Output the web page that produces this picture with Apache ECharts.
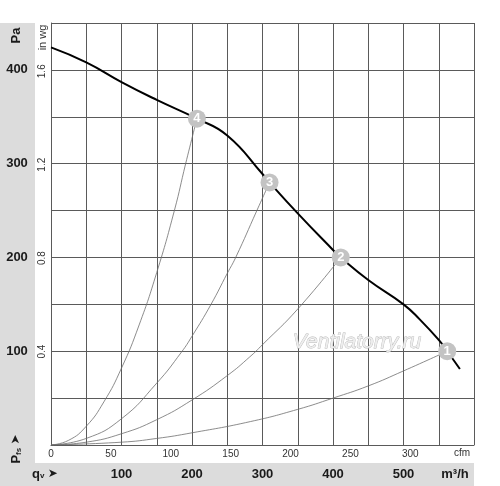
<!DOCTYPE html>
<html><head><meta charset="utf-8">
<script src="https://cdn.jsdelivr.net/npm/echarts@6/dist/echarts.min.js"></script>
<style>html,body{margin:0;padding:0;background:#fff}#c{width:500px;height:486px}</style>
</head><body><div id="c"></div>
<script>
// Tick labels
const flowTicks = [100, 200, 300, 400, 500];        // m³/h (bold, bottom band)
const paTicks = [100, 200, 300, 400];               // Pa (bold, left band)
// Fan curve [m³/h, Pa]
const fanCurve = [[0,424],[50,408],[100,387],[150,368],[207,348],[250,330],[300,289],[310,280],[350,247],[400,208],[411,200],[450,176],[500,150],[523,134],[550,112],[562,100],[580,81]];
// System resistance curves [m³/h, Pa]
const system1 = [[0,0],[100,3],[150,7],[200,13],[283,25],[350,38],[400,50],[450,63],[500,79],[562,100]];
const system2 = [[0,0],[50,3],[100,12],[150,27],[200,48],[250,74],[282,94],[300,107],[350,145],[411,200]];
const system3 = [[0,0],[50,7],[100,28],[150,66],[185,99],[200,116],[227,150],[250,183],[262,200],[292,250],[310,280]];
const system4 = [[0,0],[25,5],[50,20],[75,46],[100,82],[125,128],[150,184],[175,250],[191,300],[207,348]];
// Operating points [m³/h, Pa, label]
const opPoints = [[562,100,'1'],[411,200,'2'],[310,280,'3'],[207,348,'4']];

const M3H_PER_CFM = 1.699;
const PA_PER_INWG = 249.089;
const FONT = '"Liberation Sans", Arial, sans-serif';
const GRID = '#5a5a5a';

const chart = echarts.init(document.getElementById('c'));
const sysStyle = {type:'line', smooth:true, showSymbol:false, silent:true, lineStyle:{color:'#6e6e6e', width:0.8}, z:3};
chart.setOption({
  animation:false,
  textStyle:{fontFamily:FONT},
  grid:{left:51, top:23, right:26, bottom:41, containLabel:false},
  xAxis:[
    {type:'value', min:0, max:600, interval:50, position:'bottom',
     axisLine:{show:true, lineStyle:{color:GRID, width:1}}, axisTick:{show:false},
     splitLine:{show:true, lineStyle:{color:GRID, width:1}},
     axisLabel:{formatter:v => flowTicks.includes(v) ? String(v) : '', fontWeight:'bold', fontSize:13, color:'#1a1a1a', margin:23, fontFamily:FONT}},
    {type:'value', min:0, max:600/M3H_PER_CFM, interval:50, position:'bottom',
     axisLine:{show:false}, axisTick:{show:false}, splitLine:{show:false},
     axisLabel:{formatter:v => v <= 300 ? String(Math.round(v)) : '', fontSize:10, color:'#333', margin:4, fontFamily:FONT}}
  ],
  yAxis:[
    {type:'value', min:0, max:450, interval:50, position:'left',
     axisLine:{show:true, lineStyle:{color:GRID, width:1}}, axisTick:{show:false},
     splitLine:{show:true, lineStyle:{color:GRID, width:1}},
     axisLabel:{formatter:v => paTicks.includes(v) ? String(v) : '', fontWeight:'bold', fontSize:13, color:'#1a1a1a', margin:34, align:'center', verticalAlign:'middle', fontFamily:FONT}},
    {type:'value', min:0, max:450/PA_PER_INWG, interval:0.4, position:'left', offset:0,
     axisLine:{show:false}, axisTick:{show:false}, splitLine:{show:false},
     axisLabel:{formatter:v => (v > 0.1 && v < 1.7) ? v.toFixed(1) : '', rotate:90, fontSize:10, color:'#333', margin:9, align:'center', verticalAlign:'middle', fontFamily:FONT}}
  ],
  series:[
    Object.assign({data:system1}, sysStyle),
    Object.assign({data:system2}, sysStyle),
    Object.assign({data:system3}, sysStyle),
    Object.assign({data:system4}, sysStyle),
    {type:'line', data:fanCurve, smooth:0.5, showSymbol:false, silent:true, lineStyle:{color:'#000', width:2}, z:4},
    {type:'scatter', data:opPoints, symbol:'circle', symbolSize:18, silent:true, z:6,
     itemStyle:{color:'#c3c3c3', opacity:1},
     label:{show:true, position:'inside', formatter:p => p.data[2], color:'#fff', fontWeight:'bold', fontSize:13, fontFamily:FONT}}
  ],
  graphic:[
    {type:'rect', z:-100, shape:{x:0, y:23, width:35, height:463}, style:{fill:'#dcdcdc'}},
    {type:'rect', z:-100, shape:{x:0, y:463, width:474, height:23}, style:{fill:'#dcdcdc'}},
    {type:'text', x:16.5, y:35.5, rotation:Math.PI/2, style:{text:'Pa', font:'bold 13px '+FONT, fill:'#1a1a1a', align:'center', verticalAlign:'middle'}},
    {type:'text', x:43, y:37.5, rotation:Math.PI/2, style:{text:'in wg', font:'11px '+FONT, fill:'#333', align:'center', verticalAlign:'middle'}},
    {type:'text', x:16, y:449, rotation:Math.PI/2, style:{text:'{p|P}{s|fs} {a|➤}', align:'center', verticalAlign:'middle',
      rich:{p:{font:'bold 13px '+FONT, fill:'#1a1a1a'}, s:{font:'bold 8px '+FONT, fill:'#1a1a1a', verticalAlign:'bottom', padding:[4,0,0,0]}, a:{font:'12px "DejaVu Sans"', fill:'#1a1a1a'}}}},
    {type:'text', x:32, y:474, style:{text:'{q|q}{v|v} {a|➤}', align:'left', verticalAlign:'middle',
      rich:{q:{font:'bold 13px '+FONT, fill:'#1a1a1a'}, v:{font:'bold 8px '+FONT, fill:'#1a1a1a', padding:[4,0,0,0]}, a:{font:'12px "DejaVu Sans"', fill:'#1a1a1a'}}}},
    {type:'text', x:455, y:474, style:{text:'m³/h', font:'bold 13px '+FONT, fill:'#1a1a1a', align:'center', verticalAlign:'middle'}},
    {type:'text', x:462, y:453, style:{text:'cfm', font:'10px '+FONT, fill:'#333', align:'center', verticalAlign:'middle'}},
    {type:'text', z:5, x:357, y:342, style:{text:'Ventilatorry.ru', font:'italic 21px '+FONT, fill:'#eeeeee', stroke:'#b8b8b8', lineWidth:0.8, align:'center', verticalAlign:'middle'}}
  ]
});
</script></body></html>
